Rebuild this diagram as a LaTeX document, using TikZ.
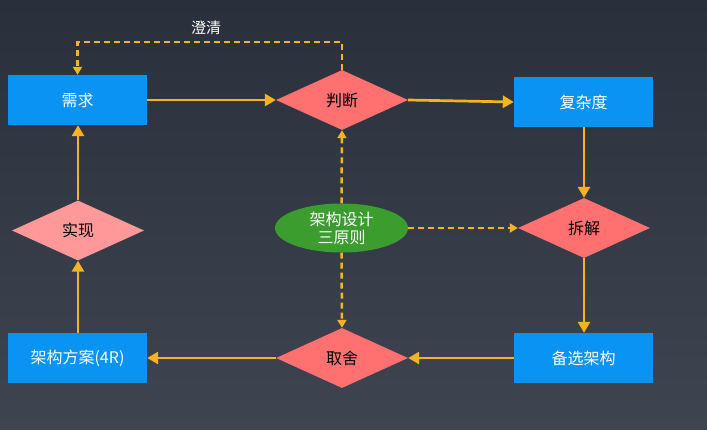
\documentclass[tikz,border=0pt]{standalone}
\usepackage{fontspec}
\setmainfont{Noto Sans CJK SC}
\usetikzlibrary{shapes.geometric,arrows.meta}
\definecolor{bgtop}{HTML}{2A303B}
\definecolor{bgbot}{HTML}{3E4550}
\definecolor{boxblue}{HTML}{0994F4}
\definecolor{dred}{HTML}{FF7171}
\definecolor{dpink}{HTML}{FF9999}
\definecolor{egreen}{HTML}{3C9D2F}
\definecolor{arr}{HTML}{F6B31F}
\tikzset{
  bluebox/.style={rectangle, fill=boxblue, minimum width=139pt, minimum height=50pt, inner sep=0pt, text=white, font=\fontsize{16}{18}\selectfont},
  reddia/.style={diamond, fill=dred, minimum width=132pt, minimum height=60pt, inner sep=0pt, aspect=2.2, text=black, font=\fontsize{16}{18}\selectfont},
  pinkdia/.style={reddia, fill=dpink},
  greenell/.style={ellipse, fill=egreen, minimum width=133pt, minimum height=49pt, inner sep=0pt, text=white, align=center, font=\fontsize{16}{18}\selectfont},
  solidarr/.style={draw=arr, line width=2.7pt, -{Triangle[length=11pt,width=12pt]}},
  dasharr/.style={draw=arr, line width=2.5pt, dash pattern=on 6pt off 4pt, -{Triangle[length=8pt,width=9pt]}},
}
\begin{document}
\begin{tikzpicture}[x=1pt,y=-1pt]
\useasboundingbox (0,0) rectangle (707,429);
\shade[top color=bgtop, bottom color=bgbot] (0,0) rectangle (707,429);
\node[bluebox] (xq) at (77.5,100) {需求};
\node[reddia] (pd) at (342,100) {判断};
\node[bluebox] (fz) at (583.5,102) {复杂度};
\node[reddia] (cj) at (584,228) {拆解};
\node[pinkdia] (sx) at (78,230.5) {实现};
\node[greenell] (yz) at (341.5,228) {架构设计\\三原则};
\node[bluebox] (fa) at (77.5,358) {架构方案(4R)};
\node[reddia] (qs) at (342,358) {取舍};
\node[bluebox] (bx) at (583.5,358) {备选架构};
\node[text=white, font=\fontsize{15}{17}\selectfont] (cq) at (206,28) {澄清};
\coordinate (turn) at (342,42);
\draw[solidarr] (xq.east) -- (pd.west);
\draw[solidarr] (pd.east) -- (fz.west);
\draw[solidarr] (fz.south -| cj.north) -- (cj.north);
\draw[solidarr] (cj.south) -- (bx.north -| cj.south);
\draw[solidarr] (bx.west) -- (qs.east);
\draw[solidarr] (qs.west) -- (fa.east);
\draw[solidarr] (fa.north -| sx.south) -- (sx.south);
\draw[solidarr] (sx.north) -- (xq.south -| sx.north);
\draw[dasharr] (yz.north) -- (pd.south);
\draw[dasharr] (yz.east) -- (cj.west);
\draw[dasharr] (yz.south) -- (qs.north);
\draw[dasharr] (pd.north) -- (turn) -| (xq.north);
\end{tikzpicture}
\end{document}
